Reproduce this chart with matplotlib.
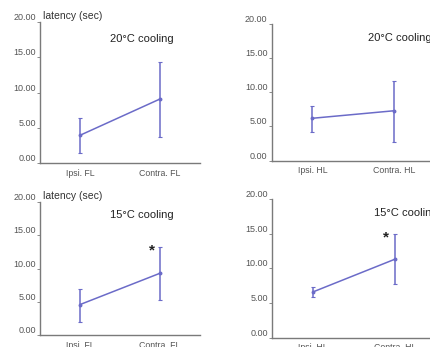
import matplotlib
matplotlib.use('Agg')
import matplotlib.pyplot as plt

plt.rcParams['font.family'] = ['Liberation Sans', 'DejaVu Sans']

# данные: среднее и границы погрешности
fl_labels = ['Ipsi. FL', 'Contra. FL']
hl_labels = ['Ipsi. HL', 'Contra. HL']

fl20_mean = [3.95, 9.1]
fl20_low = [1.45, 3.7]
fl20_high = [6.4, 14.4]

hl20_mean = [6.2, 7.3]
hl20_low = [4.15, 2.8]
hl20_high = [8.0, 11.7]

fl15_mean = [4.6, 9.3]
fl15_low = [2.0, 5.3]
fl15_high = [6.9, 13.3]

hl15_mean = [6.6, 11.3]
hl15_low = [5.8, 7.7]
hl15_high = [7.3, 14.9]

yticks = [0, 5, 10, 15, 20]
line_color = '#6b6bc8'
axis_color = '#7a7a7a'

fig = plt.figure(figsize=(4.31, 3.47), dpi=100)


def panel(rect, labels, mean, low, high, title, title_pos, ylabel=False, star=None):
    ax = fig.add_axes(rect)
    x = list(range(len(mean)))
    yerr = [[m - l for m, l in zip(mean, low)], [h - m for m, h in zip(mean, high)]]
    ax.errorbar(x, mean, yerr=yerr, color=line_color, lw=1.1, elinewidth=1.1,
                capsize=1.5, capthick=0.8, marker='o', ms=1.8)
    ax.set_xlim(-0.5, 1.5)
    ax.set_ylim(0, 20)
    ax.set_yticks(yticks)
    ax.set_yticklabels(['%.2f' % v for v in yticks])
    ax.set_xticks(x)
    ax.set_xticklabels(labels)
    ax.tick_params(axis='y', length=2, width=0.6, colors=axis_color, labelsize=6.5,
                   labelcolor='#555555', pad=1)
    ax.tick_params(axis='x', length=0, labelsize=6.3, labelcolor='#555555', pad=4)
    for t in ax.get_yticklabels():
        t.set_verticalalignment('bottom')
    ax.spines['top'].set_visible(False)
    ax.spines['right'].set_visible(False)
    for s in ['left', 'bottom']:
        ax.spines[s].set_color(axis_color)
        ax.spines[s].set_linewidth(1.0)
    ax.text(title_pos[0], title_pos[1], title, transform=ax.transAxes,
            fontsize=8, ha='left', va='center', color='#222222')
    if ylabel:
        ax.text(0.02, 1.045, 'latency (sec)', transform=ax.transAxes,
                fontsize=7.5, ha='left', va='center', color='#333333')
    if star is not None:
        ax.text(star[0], star[1], '*', fontsize=11, ha='center', va='center',
                fontweight='bold', color='#222222')
    ax.patch.set_alpha(0)
    return ax


panel([0.093, 0.530, 0.371, 0.406], fl_labels, fl20_mean, fl20_low, fl20_high,
      '20°C cooling', (0.44, 0.88), ylabel=True)
panel([0.630, 0.537, 0.379, 0.394], hl_labels, hl20_mean, hl20_low, hl20_high,
      '20°C cooling', (0.59, 0.90))
panel([0.093, 0.034, 0.371, 0.384], fl_labels, fl15_mean, fl15_low, fl15_high,
      '15°C cooling', (0.44, 0.90), ylabel=True, star=(0.9, 12.7))
panel([0.632, 0.027, 0.379, 0.400], hl_labels, hl15_mean, hl15_low, hl15_high,
      '15°C cooling', (0.62, 0.90), star=(0.89, 14.4))

plt.savefig('out.png', dpi=100)
